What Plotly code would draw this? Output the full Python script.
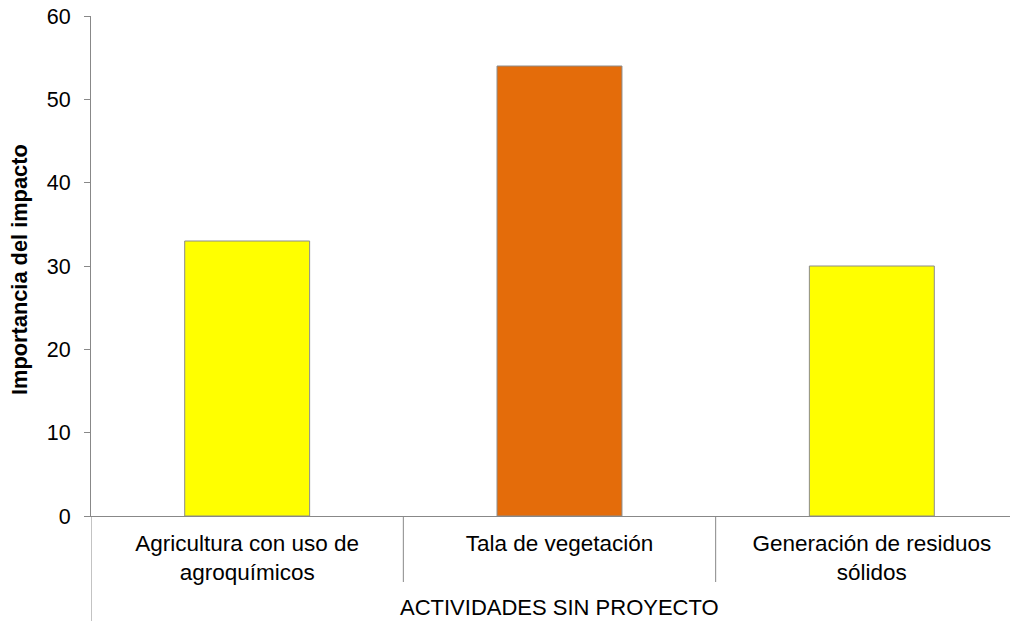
import plotly.graph_objects as go

categories = ["Agricultura con uso de<br>agroquímicos", "Tala de vegetación", "Generación de residuos<br>sólidos"]
values = [33, 54, 30]
colors = ["#FFFF00", "#E46C0A", "#FFFF00"]
y_title = "Importancia del impacto"
x_title = "ACTIVIDADES SIN PROYECTO"
y_ticks = [0, 10, 20, 30, 40, 50, 60]

AX = "#888888"
FONT = "Liberation Sans, Arial, sans-serif"

# page is rendered with an 8px body offset; figure coords = page coords - 8
W, H = 1010, 613
L, T, B = 83, 8, 105
ph = H - T - B
pw = W - L

fig = go.Figure(go.Bar(
    x=list(range(len(categories))), y=values, width=0.4,
    marker=dict(color=colors, line=dict(color="#8c8c8c", width=1)),
))

fig.update_layout(
    width=W, height=H,
    margin=dict(l=L, r=0, t=T, b=B, autoexpand=False),
    paper_bgcolor="white", plot_bgcolor="white",
    font=dict(family=FONT, size=22, color="#000000"),
    showlegend=False,
    xaxis=dict(
        range=[-0.5, 2.468], tickmode="array",
        tickvals=list(range(len(categories))), ticktext=categories,
        showgrid=False, zeroline=False, automargin=False,
        showline=True, linecolor=AX, linewidth=1,
        ticks="", tickfont=dict(size=22.5), ticklabelstandoff=7,
    ),
    yaxis=dict(
        range=[0, 60], tickvals=y_ticks,
        showgrid=False, zeroline=False, automargin=False,
        showline=True, linecolor=AX, linewidth=1,
        ticks="outside", ticklen=6, tickcolor=AX, tickwidth=1,
        ticklabelstandoff=9, tickfont=dict(size=21.5),
        ticklabeloverflow="allow",
    ),
    annotations=[
        dict(text=x_title, x=1, xref="x", y=(H - B - 599) / ph, yref="paper",
             yanchor="middle", showarrow=False, font=dict(size=22)),
        dict(text="<b>" + y_title + "</b>", textangle=-90, x=(11 - L) / pw,
             xref="paper", xanchor="center", y=0.5 - 4 / ph, yref="paper",
             showarrow=False, font=dict(size=21.8)),
    ],
)

# category divider ticks and extended left axis line
shapes = []
for b in [0.5, 1.5]:
    shapes.append(dict(type="line", xref="x", yref="paper", x0=b, x1=b,
                       y0=0, y1=-66 / ph, line=dict(color=AX, width=1)))
shapes.append(dict(type="line", xref="x", yref="paper", x0=-0.5, x1=-0.5,
                   y0=0, y1=-B / ph, line=dict(color=AX, width=1)))
fig.update_layout(shapes=shapes)

fig.write_html("out.html")
